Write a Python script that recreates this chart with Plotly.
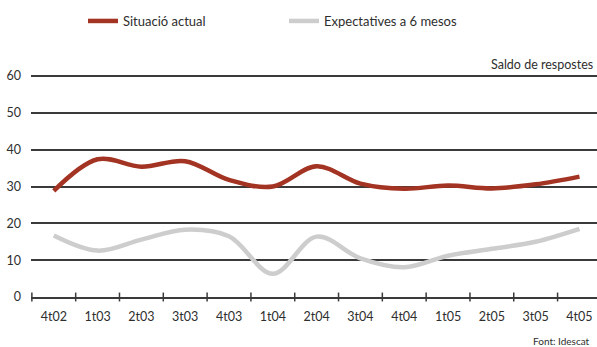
import plotly.graph_objects as go

categories = ["4t02", "1t03", "2t03", "3t03", "4t03", "1t04", "2t04",
              "3t04", "4t04", "1t05", "2t05", "3t05", "4t05"]
situacio = [28.8, 37.4, 35.4, 36.9, 31.8, 30.0, 35.5, 30.8, 29.4, 30.3, 29.5, 30.6, 32.7]
expectatives = [16.7, 12.6, 15.6, 18.3, 16.5, 6.3, 16.4, 10.5, 8.1, 11.2, 13.1, 15.0, 18.5]
y_ticks = [0, 10, 20, 30, 40, 50, 60]

RED = "#A33322"
GREY = "#CDCDCD"
TXT = "#2e2e2e"
FONT = "Lato"

x = list(range(len(categories)))

fig = go.Figure()
fig.add_trace(go.Scatter(x=x, y=situacio, mode="lines", name="Situació actual",
                         line=dict(color=RED, width=4.5, shape="spline", smoothing=1.0)))
fig.add_trace(go.Scatter(x=x, y=expectatives, mode="lines", name="Expectatives a 6 mesos",
                         line=dict(color=GREY, width=4.5, shape="spline", smoothing=1.0)))

shapes = []
for k in range(len(categories)):
    shapes.append(dict(type="line", xref="x", yref="paper", x0=k - 0.5, x1=k - 0.5,
                       y0=-0.02, y1=0.02, line=dict(color="#3a3a3a", width=1.5)))

fig.update_layout(
    width=597, height=347,
    margin=dict(l=31, r=0, t=75, b=50),
    paper_bgcolor="white", plot_bgcolor="white",
    font=dict(family=FONT, color=TXT, size=12),
    shapes=shapes,
    showlegend=True,
    legend=dict(orientation="h", xref="container", yref="container",
                x=83 / 597, y=1 - 6 / 347, xanchor="left", yanchor="top",
                font=dict(size=13, color=TXT), entrywidth=156,
                bgcolor="rgba(0,0,0,0)"),
    xaxis=dict(range=[-0.52, 12.4], tickmode="array", tickvals=x, ticktext=categories,
               showgrid=False, zeroline=False, showline=True, linecolor="#3a3a3a",
               linewidth=1.5, ticks="", ticklabelstandoff=7,
               tickfont=dict(size=12.5, color=TXT)),
    yaxis=dict(range=[0, 60.3], tickvals=y_ticks, showgrid=True, gridcolor="#3a3a3a",
               gridwidth=1.5, zeroline=False, showline=False, ticks="",
               ticklabelstandoff=9, tickfont=dict(size=12.5, color=TXT)),
    annotations=[
        dict(text="Saldo de respostes", xref="paper", yref="paper", x=1, y=1.0,
             xanchor="right", yanchor="bottom", showarrow=False, xshift=-2, yshift=1,
             font=dict(size=12.5, color=TXT)),
        dict(text="Font: Idescat", xref="paper", yref="paper", x=1, y=-0.2,
             xanchor="right", yanchor="middle", showarrow=False, xshift=-5,
             font=dict(size=10, color=TXT)),
    ],
)

fig.write_html("out.html", config={"displayModeBar": False},
               post_script="document.body.style.margin='0';")
